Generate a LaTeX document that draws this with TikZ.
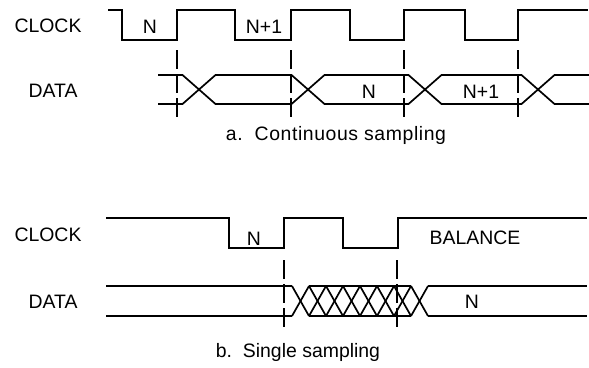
\documentclass[tikz,border=0pt]{standalone}
\usepackage{fontspec}
\setmainfont{Liberation Sans}
\begin{document}
\begin{tikzpicture}[x=1bp,y=-1bp,
  sig/.style={line width=1.7bp, line join=miter},
  mark line/.style={line width=1.7bp, dash pattern=on 19bp off 5bp},
  lbl/.style={font=\fontsize{19.5}{22}\selectfont, inner sep=0pt},
  captxt/.style={font=\fontsize{19.5}{22}\selectfont\addfontfeature{LetterSpace=3}, inner sep=0pt}]
\useasboundingbox[fill=white] (0,0) rectangle (589,367);

% ---------- a. Continuous sampling ----------
\node[lbl] (clkA) at (48,25.5) {CLOCK};
\node[lbl] (datA) at (53,91) {DATA};

\draw[sig] (108,10) -- (122,10) -- (122,40) -- (177,40) -- (177,10) -- (235,10) -- (235,40)
  -- (291,40) -- (291,10) -- (350,10) -- (350,40) -- (404,40) -- (404,10) -- (465,10)
  -- (465,40) -- (518,40) -- (518,10) -- (588,10);

\node[lbl] (nA1) at (150,27) {N};
\node[lbl] (nA2) at (264,27) {N+1};

\foreach \x in {177,291,404,518}
  \draw[mark line] (\x,50) -- (\x,118);

% data lines with crossings
\def\hw{16.5}
\draw[sig] (158,75) -- (199-\hw,75) -- (199+\hw,104) -- (308-\hw,104) -- (308+\hw,75)
  -- (425-\hw,75) -- (425+\hw,104) -- (538-\hw,104) -- (538+\hw,75) -- (589,75);
\draw[sig] (158,104) -- (199-\hw,104) -- (199+\hw,75) -- (308-\hw,75) -- (308+\hw,104)
  -- (425-\hw,104) -- (425+\hw,75) -- (538-\hw,75) -- (538+\hw,104) -- (589,104);

\node[lbl] (dA1) at (369,92) {N};
\node[lbl] (dA2) at (481,92) {N+1};

\node[captxt] (capA) at (336,135) {a.\ \ Continuous sampling};

% ---------- b. Single sampling ----------
\node[lbl] (clkB) at (48,235) {CLOCK};
\node[lbl] (datB) at (53,302) {DATA};

\draw[sig] (106,218) -- (229,218) -- (229,248) -- (284,248) -- (284,218) -- (343,218)
  -- (343,248) -- (398,248) -- (398,218) -- (587,218);

\node[lbl] (nB) at (254,239) {N};
\node[lbl] (bal) at (475,238) {BALANCE};

\foreach \x in {284,397}
  \draw[mark line] (\x,260) -- (\x,328);

% data lines with braid of transitions
\draw[sig] (106,286) -- (292,286);
\draw[sig] (106,316) -- (292,316);
\draw[sig] (309,286) -- (411,286);
\draw[sig] (309,316) -- (411,316);
\draw[sig] (428,286) -- (587,286);
\draw[sig] (428,316) -- (587,316);
\foreach \i in {0,...,7}{
  \pgfmathsetmacro{\xa}{292+17*\i}
  \pgfmathsetmacro{\xb}{292+17*(\i+1)}
  \draw[sig] (\xa,286) -- (\xb,316);
  \draw[sig] (\xa,316) -- (\xb,286);
}

\node[lbl] (dB) at (472,302) {N};

\node[lbl] (capB) at (298,352) {b.\ \ Single sampling};
\end{tikzpicture}
\end{document}
